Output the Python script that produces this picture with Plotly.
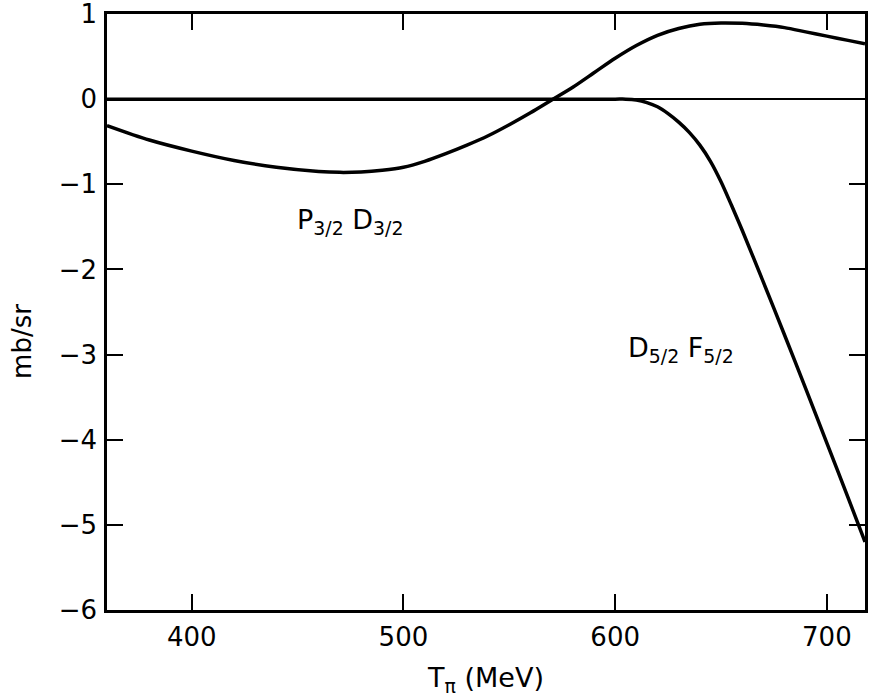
import plotly.graph_objects as go

# P3/2 D3/2 interference curve
p_x = [360, 380, 400, 420, 440, 460, 470, 480, 490, 500, 510, 520, 530, 540, 550, 560, 570, 580,
       590, 600, 610, 620, 630, 640, 650, 660, 670, 680, 690, 700, 710, 718]
p_y = [-0.31, -0.48, -0.61, -0.72, -0.80, -0.85, -0.86, -0.855, -0.835, -0.80, -0.73, -0.64, -0.54,
       -0.43, -0.30, -0.16, -0.01, 0.14, 0.31, 0.48, 0.63, 0.75, 0.83, 0.88, 0.895, 0.89, 0.87,
       0.84, 0.79, 0.74, 0.69, 0.65]

# D5/2 F5/2 interference curve
d_x = [360, 400, 500, 600, 605, 610, 615, 620, 625, 630, 635, 640, 645, 650, 655, 660, 670, 680,
       690, 700, 710, 718]
d_y = [0, 0, 0, 0, 0, -0.01, -0.04, -0.09, -0.17, -0.27, -0.39, -0.54, -0.73, -0.97, -1.25,
       -1.54, -2.15, -2.77, -3.40, -4.04, -4.68, -5.20]

x_ticks = [400, 500, 600, 700]
y_ticks = [1, 0, -1, -2, -3, -4, -5, -6]
y_tick_text = ["1", "0", "−1", "−2", "−3", "−4", "−5", "−6"]

font_family = "DejaVu Sans"

fig = go.Figure()
fig.add_trace(go.Scatter(x=p_x, y=p_y, mode="lines",
                         line=dict(color="black", width=3.5, shape="spline", smoothing=0.8),
                         showlegend=False, hoverinfo="skip"))
fig.add_trace(go.Scatter(x=d_x, y=d_y, mode="lines",
                         line=dict(color="black", width=3.5, shape="spline", smoothing=0.8),
                         showlegend=False, hoverinfo="skip"))

fig.add_annotation(x=475, y=-1.44, text="P<sub>3/2</sub> D<sub>3/2</sub>", showarrow=False,
                   font=dict(size=27, color="black", family=font_family))
fig.add_annotation(x=631, y=-2.94, text="D<sub>5/2</sub> F<sub>5/2</sub>", showarrow=False,
                   font=dict(size=27, color="black", family=font_family))
# y-axis title placed as in the reference (slightly below the axis middle)
fig.add_annotation(x=-0.112, y=0.45, xref="paper", yref="paper", text="mb/sr", textangle=-90,
                   showarrow=False, xanchor="center", yanchor="middle",
                   font=dict(size=26, color="black", family=font_family))

fig.update_layout(
    width=870, height=697,
    margin=dict(l=107, r=5, t=14, b=87),
    paper_bgcolor="white", plot_bgcolor="white",
    font=dict(family=font_family, color="black"),
)
fig.update_xaxes(
    range=[360, 718], tickvals=x_ticks, ticks="inside", ticklen=16, tickwidth=1.5, tickcolor="black",
    showline=True, linewidth=2.5, linecolor="black", mirror="allticks", showgrid=False, zeroline=False,
    tickfont=dict(size=26), ticklabelstandoff=2, automargin=False, ticklabeloverflow="allow",
    title=dict(text="T<sub>π</sub> (MeV)", font=dict(size=27), standoff=20),
)
fig.update_yaxes(
    range=[-6, 1], tickvals=y_ticks, ticktext=y_tick_text, ticks="inside", ticklen=16, tickwidth=1.5,
    tickcolor="black", showline=True, linewidth=2.5, linecolor="black", mirror="allticks",
    showgrid=False, zeroline=True, zerolinecolor="black", zerolinewidth=1.5,
    tickfont=dict(size=26), ticklabelstandoff=2, automargin=False, ticklabeloverflow="allow",
)

fig.write_html(
    "out.html",
    config={"displayModeBar": False},
    post_script="document.body.style.margin='0';document.body.style.overflow='hidden';",
)
